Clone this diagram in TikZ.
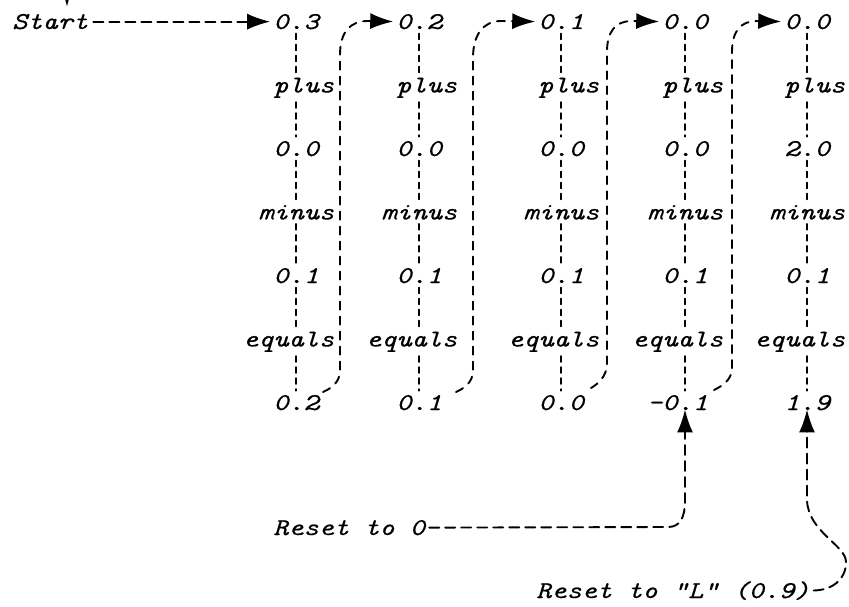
\documentclass[tikz,border=0pt]{standalone}
\usepackage{fontspec}
\setmonofont{Latin Modern Mono}[FakeStretch=1.2, RawFeature={embolden=0.5}]
\usetikzlibrary{arrows.meta}
\newcommand\mycell[5]{\node[txt] (#1) at ({#2-(#4+0.5)*15.18},{29+63.5*(#3-1)}) {#5};}
\begin{document}
\begin{tikzpicture}[x=1pt,y=-1pt,
  txt/.style={anchor=base west, inner xsep=0pt, inner ysep=4pt, font=\ttfamily\itshape\fontsize{24.1}{29}\selectfont},
  colline/.style={draw, line width=1.5pt, dash pattern=on 6pt off 5pt, line cap=round},
  retline/.style={draw, line width=1.9pt, dash pattern=on 8pt off 7pt, line cap=round},
  hline/.style={draw, line width=1.9pt, dash pattern=on 10pt off 6pt, line cap=round},
  arr/.style={-{Latex[length=23pt,width=16pt]}}]
\useasboundingbox (0,0) rectangle (849,607);
\coordinate (X1) at (296,0);
\coordinate (X2) at (419,0);
\coordinate (X3) at (561,0);
\coordinate (X4) at (685,0);
\coordinate (X5) at (807,0);
\foreach \c/\x/\a/\b/\d/\dk in {1/296/0.3/0.0/0.2/1, 2/419/0.2/0.0/0.1/1, 3/561/0.1/0.0/0.0/1, 4/685/0.0/0.0/-0.1/2, 5/807/0.0/2.0/1.9/1}{
  \mycell{c\c-1}{\x}{1}{1}{\a}
  \mycell{c\c-2}{\x}{2}{1}{plus}
  \mycell{c\c-3}{\x}{3}{1}{\b}
  \mycell{c\c-4}{\x}{4}{2}{minus}
  \mycell{c\c-5}{\x}{5}{1}{0.1}
  \mycell{c\c-6}{\x}{6}{3}{equals}
  \mycell{c\c-7}{\x}{7}{\dk}{\d}
}
\foreach \c in {1,...,5}{
  \foreach \r in {1,...,6}{
    \pgfmathtruncatemacro\rn{\r+1}
    \draw[colline] (c\c-\r.south -| X\c) -- (c\c-\rn.north -| X\c);
  }
}
% return loops
\coordinate (s1) at (323,392);
\coordinate (s2) at (456,392);
\coordinate (s3) at (591,388);
\coordinate (s4) at (714,390);
\draw[retline,arr,shorten >=3pt] (s1) .. controls (332,388) and (340,382) .. (340,370) -- (340,55) .. controls (340,32) and (350,21) .. (368,21) -- (c2-1.west);
\draw[retline,arr,shorten >=3pt] (s2) .. controls (465,388) and (473,382) .. (473,370) -- (473,58) .. controls (473,35) and (483,21) .. (501,21) -- (c3-1.west);
\draw[retline,arr,shorten >=3pt] (s3) .. controls (598,384) and (607,376) .. (607,364) -- (607,52) .. controls (607,32) and (615,21) .. (632,21) -- (c4-1.west);
\draw[retline,arr,shorten >=3pt] (s4) .. controls (722,386) and (732,380) .. (732,368) -- (732,52) .. controls (732,32) and (740,21) .. (757,21) -- (c5-1.west);
% start
\node[txt] (start) at (12,29) {Start};
\draw[hline,arr,shorten <=5pt,shorten >=3pt] (start.east) -- (c1-1.west);
\coordinate (topin) at (67,-30);
\draw[line width=1.9pt,arr,shorten >=3pt] (topin) -- (topin |- start.north);
% resets
\node[txt] (reset0) at (273,535) {Reset to 0};
\node[txt] (resetL) at (536,598) {Reset to "L" (0.9)};
\draw[hline,arr,shorten <=4pt,shorten >=-5pt] (reset0.east) -- (668,527) .. controls (680,527) and (685,518) .. (685,500) -- (c4-7.south -| X4);
\draw[hline,arr,shorten <=4pt,shorten >=-5pt] (resetL.east) .. controls (832,590) and (846,580) .. (846,562) .. controls (846,545) and (808,532) .. (807,500) -- (c5-7.south -| X5);
\end{tikzpicture}
\end{document}
